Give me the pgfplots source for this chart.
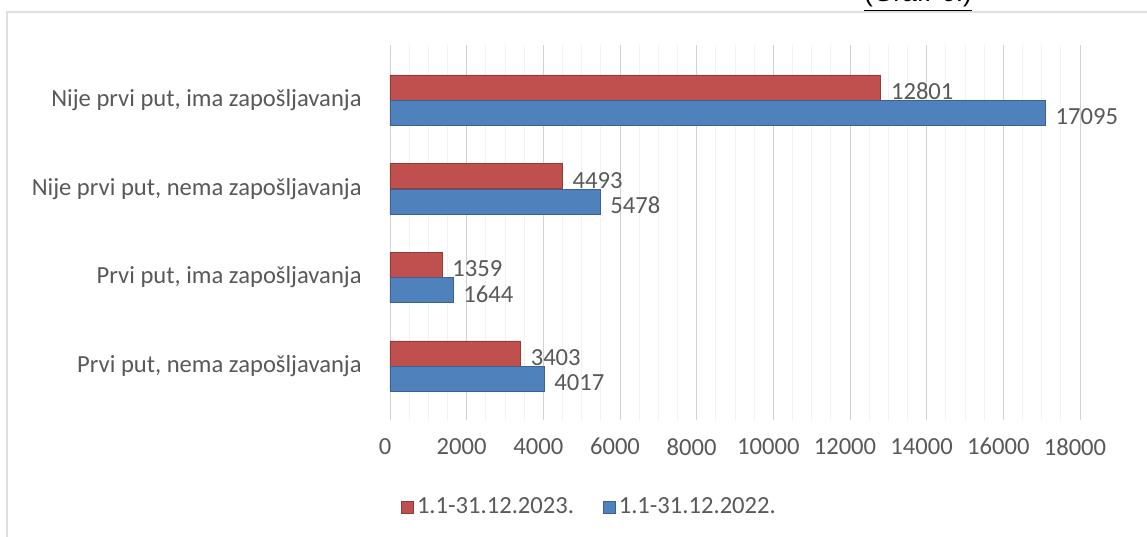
\documentclass[border=0pt]{standalone}
\usepackage{fontspec}
\setmainfont{Carlito}
\newfontfamily\arialfont{Liberation Sans}
\usepackage{pgfplots}
\pgfplotsset{compat=1.18}

\definecolor{redbar}{HTML}{C0504D}
\definecolor{bluebar}{HTML}{4F81BD}
\definecolor{txt}{HTML}{595959}

\begin{document}
\begin{tikzpicture}
% 1 px of the reference = 0.02cm
\clip (0,0) rectangle (22.94,10.74);
\fill[white] (0,0) rectangle (22.94,10.74);
\draw[gray!25, line width=0.04cm] (0.13,0) -- (0.13,10.5) -- (22.94,10.5);
\node[anchor=base, font=\arialfont\fontsize{15}{17}\selectfont] at (18.36,10.70) {\underline{(Graf. 6.)}};

\begin{axis}[
    at={(7.8cm,2.34cm)}, anchor=south west,
    scale only axis,
    width=13.8cm, height=7.5cm,
    xbar, bar width=0.5cm,
    xmin=0, xmax=18000,
    ymin=-0.609, ymax=3.62,
    xtick={0,2000,...,18000},
    minor x tick num=3,
    ytick={0,1,2,3},
    yticklabels={{Prvi put, nema zapošljavanja}, {Prvi put, ima zapošljavanja},
                 {Nije prvi put, nema zapošljavanja}, {Nije prvi put, ima zapošljavanja}},
    xmajorgrids, xminorgrids,
    major grid style={gray!35, line width=0.5pt},
    minor grid style={gray!10, line width=0.4pt},
    axis line style={draw=none},
    major tick length=0pt, minor tick length=0pt,
    font=\fontsize{14}{16}\selectfont,
    ticklabel style={text=txt},
    /pgf/number format/assume math mode=true,
    scaled x ticks=false,
    xticklabel={\pgfmathprintnumber[1000 sep={}]{\tick}},
    xticklabel style={inner sep=0pt, anchor=north, yshift=-0.36cm, xshift=-0.1cm},
    yticklabel style={inner sep=0pt, anchor=east, xshift=-0.56cm},
    nodes near coords,
    nodes near coords style={text=txt, anchor=west, inner sep=0pt, xshift=0.2cm, yshift=-0.08cm,
        /pgf/number format/1000 sep={}, /pgf/number format/assume math mode=true},
    legend style={at={(0.29,-0.232)}, anchor=center, draw=none, fill=none,
        legend columns=2, text=txt, font=\fontsize{14}{16}\selectfont,
        /tikz/every even column/.append style={column sep=0.5cm}},
    legend image code/.code={\fill[#1] (0cm,-0.12cm) rectangle (0.24cm,0.12cm);},
]
\addplot[fill=redbar, draw=redbar!75!black, bar shift=0.25cm] coordinates {
    (3403,0) (1359,1) (4493,2) (12801,3)};
\addplot[fill=bluebar, draw=bluebar!75!black, bar shift=-0.26cm] coordinates {
    (4017,0) (1644,1) (5478,2) (17095,3)};
\legend{1.1-31.12.2023., 1.1-31.12.2022.}
\end{axis}
\end{tikzpicture}
\end{document}
